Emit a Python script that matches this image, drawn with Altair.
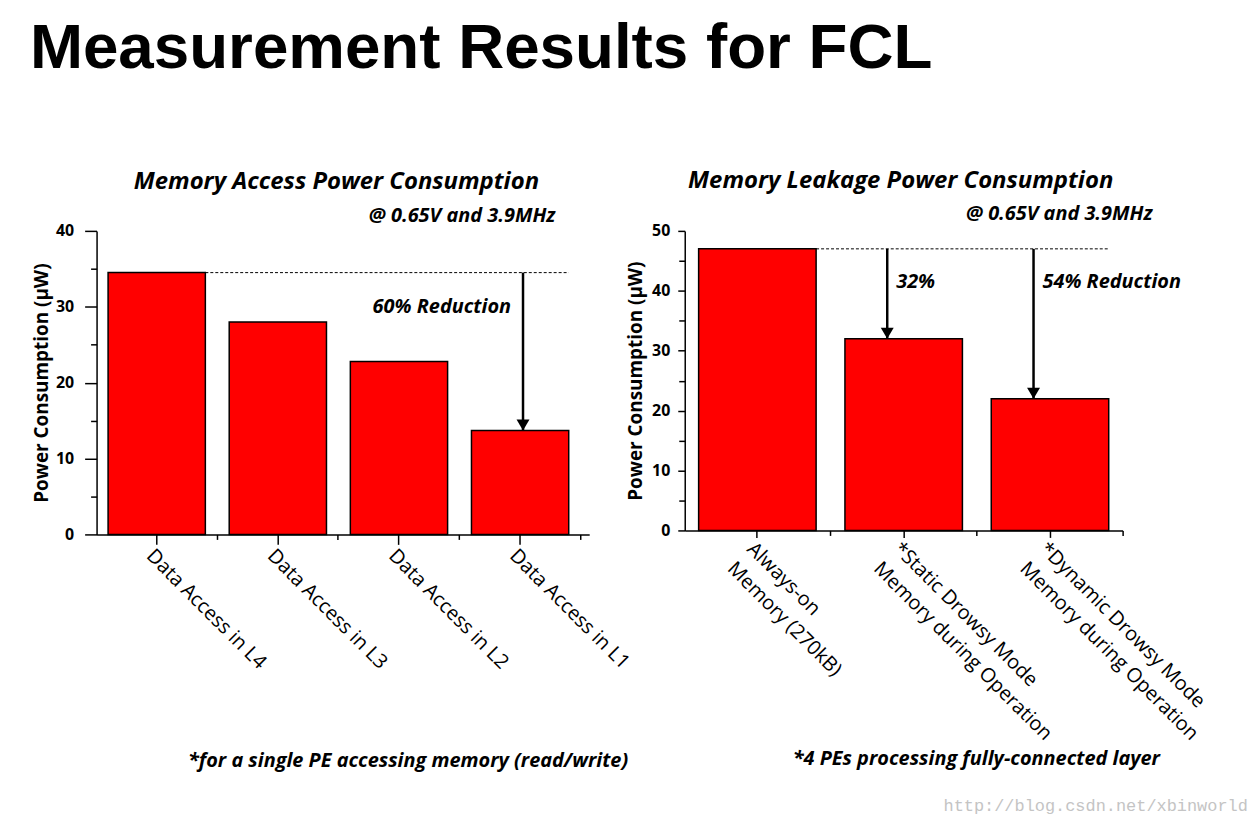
import altair as alt
import pandas as pd

# ---------------- data ----------------
left_categories = ["Data Access in L4", "Data Access in L3", "Data Access in L2", "Data Access in L1"]
left_values = [34.5, 28.0, 22.8, 13.7]
left_y_ticks = [0, 10, 20, 30, 40]
left_y_minor = [5, 15, 25, 35]
left_ref_level = 34.5
left_arrow_targets = ["Data Access in L1"]
left_arrow_to = [13.7]
left_arrow_texts = ["60% Reduction"]
left_arrow_text_y = [30.0]

right_categories = ["Always-on|Memory (270kB)",
                    "*Static Drowsy Mode|Memory during Operation",
                    "*Dynamic Drowsy Mode|Memory during Operation"]
right_values = [47.0, 32.0, 22.0]
right_y_ticks = [0, 10, 20, 30, 40, 50]
right_y_minor = [5, 15, 25, 35, 45]
right_ref_level = 47.0
right_arrow_targets = ["*Static Drowsy Mode|Memory during Operation",
                       "*Dynamic Drowsy Mode|Memory during Operation"]
right_arrow_to = [32.0, 22.0]
right_arrow_texts = ["32%", "54% Reduction"]
right_arrow_text_y = [41.5, 41.5]

FONT = "Open Sans"
TITLE_FONT = "Liberation Sans"


def pixel_text(text, x, y, size, align="center", style="italic", weight="bold",
               font=FONT, color="black"):
    return alt.Chart(pd.DataFrame({"t": [text]})).mark_text(
        align=align, baseline="alphabetic", font=font, fontSize=size,
        fontStyle=style, fontWeight=weight, color=color
    ).encode(x=alt.value(x), y=alt.value(y), text="t:N")


def panel(cats, vals, ymax, yticks, yminor, width, height, p_in, p_out, p_align,
          ytick, ylabpad, ytitlepad, xtick, minor_band, ref_level, arrow_cats,
          arrow_to, arrow_band, arrow_texts, arrow_text_y, text_dx, text_align,
          texts):
    df = pd.DataFrame({"cat": cats, "v": vals})
    xs = alt.Scale(domain=cats, paddingInner=p_in, paddingOuter=p_out, align=p_align)
    ys = alt.Scale(domain=[0, ymax], nice=False, zero=True)

    bars = alt.Chart(df).mark_bar(color="#FF0000", stroke="black", strokeWidth=1.5).encode(
        x=alt.X("cat:N", scale=xs, sort=cats, title=None,
                axis=alt.Axis(labelAngle=45, labelAlign="left", labelBaseline="top",
                              labelPadding=1, tickSize=xtick, labelLimit=0,
                              labelExpr="split(datum.label, '|')", labelLineHeight=28,
                              labelFont=FONT, labelFontSize=20, labelFontWeight="normal",
                              orient="bottom")),
        y=alt.Y("v:Q", scale=ys, title="Power Consumption (\u00b5W)",
                axis=alt.Axis(values=yticks, tickSize=ytick, labelPadding=ylabpad,
                              titlePadding=ytitlepad, labelFont=FONT, labelFontSize=16,
                              labelFontWeight="bold", titleFont=FONT, titleFontSize=19,
                              titleFontWeight="bold", orient="left")),
    )

    minor = alt.Chart(df).mark_bar(opacity=0).encode(
        x=alt.X("cat:N", scale=xs, sort=cats, title=None,
                axis=alt.Axis(bandPosition=minor_band, labels=False, domain=False,
                              tickSize=5, orient="bottom")),
        y=alt.Y("v:Q", scale=ys, title=None,
                axis=alt.Axis(values=yminor, labels=False, domain=False,
                              tickSize=6, orient="left")),
    )

    dash_df = pd.DataFrame({"cat": [cats[0], cats[-1]], "v": [ref_level, ref_level], "o": [0, 1]})
    dashed = alt.Chart(dash_df).mark_line(color="black", strokeDash=[3, 2], strokeWidth=1).encode(
        x=alt.X("cat:N", scale=xs, sort=cats, bandPosition=1, axis=None),
        y=alt.Y("v:Q", scale=ys, axis=None),
        order="o:Q",
    )

    arr_df = pd.DataFrame({"cat": arrow_cats, "from": [ref_level] * len(arrow_cats), "to": arrow_to})
    shaft = alt.Chart(arr_df).mark_rule(color="black", strokeWidth=2.5).encode(
        x=alt.X("cat:N", scale=xs, sort=cats, bandPosition=arrow_band, axis=None),
        y=alt.Y("from:Q", scale=ys, axis=None),
        y2="to:Q",
    )
    head = alt.Chart(arr_df).mark_point(shape="M-1,-1.7L1,-1.7L0,0Z", filled=True,
                                        color="black", opacity=1, size=169).encode(
        x=alt.X("cat:N", scale=xs, sort=cats, bandPosition=arrow_band, axis=None),
        y=alt.Y("to:Q", scale=ys, axis=None),
    )

    lab_df = pd.DataFrame({"cat": arrow_cats, "y": arrow_text_y, "t": arrow_texts})
    labels = alt.Chart(lab_df).mark_text(align=text_align, baseline="middle", dx=text_dx,
                                         font=FONT, fontSize=20, fontStyle="italic",
                                         fontWeight="bold", color="black").encode(
        x=alt.X("cat:N", scale=xs, sort=cats, bandPosition=arrow_band, axis=None),
        y=alt.Y("y:Q", scale=ys, axis=None),
        text="t:N",
    )

    layers = [bars, minor, dashed, shaft, head, labels] + [pixel_text(*t[:4], **t[4]) for t in texts]
    return alt.layer(*layers).resolve_axis(x="independent", y="independent").properties(
        width=width, height=height)


left = panel(
    left_categories, left_values, 40, left_y_ticks, left_y_minor, 495, 305,
    0.197, 0.132, 0.36, 12, 11, 4, 10, 1.122, left_ref_level,
    left_arrow_targets, left_arrow_to, 0.53, left_arrow_texts, left_arrow_text_y,
    -12, "right",
    [
        ("Measurement Results for FCL", -67, -164, 64,
         dict(align="left", style="normal", weight="bold", font=TITLE_FONT)),
        ("Memory Access Power Consumption", 241, -42, 24, dict()),
        ("@ 0.65V and 3.9MHz", 461, -9, 20, dict(align="right")),
        ("*for a single PE accessing memory (read/write)", 313, 539, 20, dict()),
    ],
)

right = panel(
    right_categories, right_values, 50, right_y_ticks, right_y_minor, 440, 301,
    0.197, 0.095, 0.5, 7, 8, 6, 7, 1.122, right_ref_level,
    right_arrow_targets, right_arrow_to, 0.36, right_arrow_texts, right_arrow_text_y,
    9, "left",
    [
        ("Memory Leakage Power Consumption", 217, -43, 24, dict()),
        ("@ 0.65V and 3.9MHz", 470, -11, 20, dict(align="right")),
        ("*4 PEs processing fully-connected layer", 293, 537, 20, dict()),
        ("http://blog.csdn.net/xbinworld", 260, 583, 17,
         dict(align="left", style="normal", weight="normal", font="Liberation Mono",
              color="#c4c4c4")),
    ],
)

chart = alt.hconcat(left, right, spacing=96, bounds="flush").properties(
    padding={"left": 22, "top": 7, "right": 2, "bottom": 2},
    background="white",
).configure_axis(
    grid=False, domainColor="black", tickColor="black", labelColor="black",
    titleColor="black", domainWidth=1.5, tickWidth=1.5,
).configure_view(strokeWidth=0)

chart.save("out.html", embed_options={"renderer": "svg", "actions": False})
